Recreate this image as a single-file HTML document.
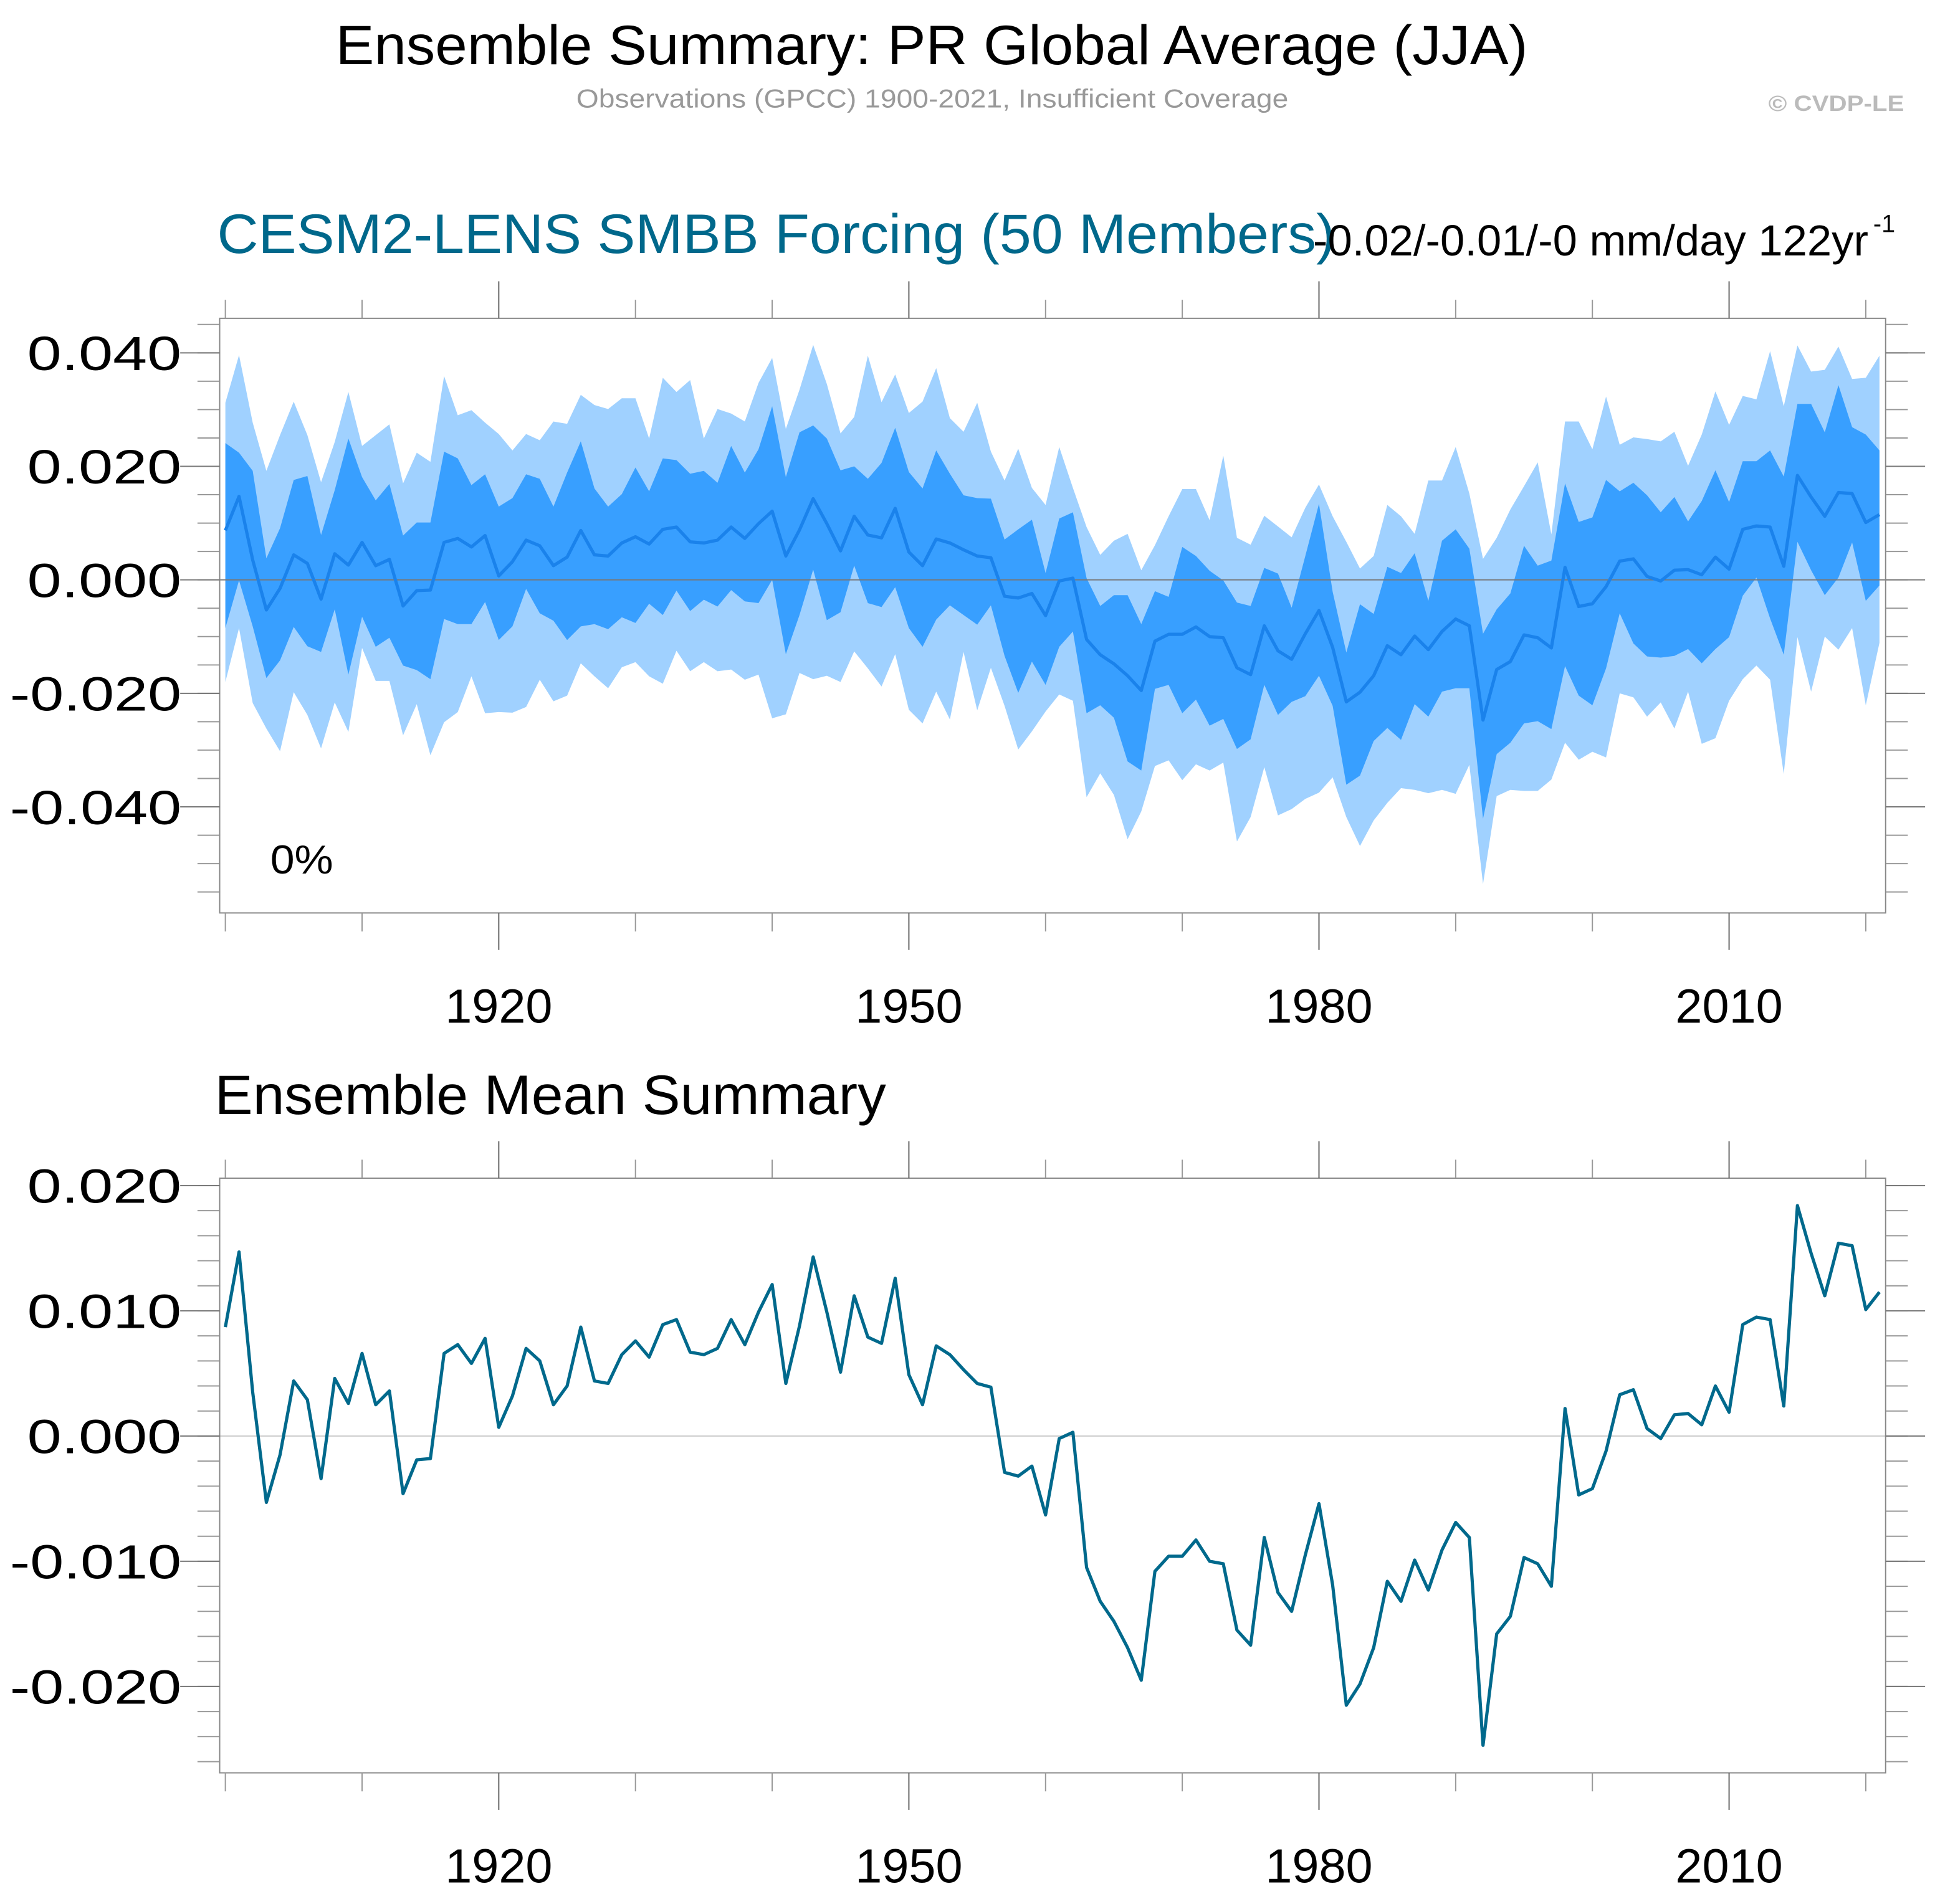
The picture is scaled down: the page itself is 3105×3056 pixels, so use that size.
<!DOCTYPE html>
<html><head><meta charset="utf-8">
<style>html,body{margin:0;padding:0;background:#fff}svg{display:block}</style>
</head><body>
<svg id="chart" xmlns="http://www.w3.org/2000/svg" width="3105" height="3056" viewBox="0 0 1568 1543.3" font-family="Liberation Sans, sans-serif">
<text x="272" y="52" font-size="45" textLength="966" lengthAdjust="spacingAndGlyphs">Ensemble Summary: PR Global Average (JJA)</text>
<text x="467" y="87" font-size="21" fill="#999" textLength="577" lengthAdjust="spacingAndGlyphs">Observations (GPCC) 1900-2021, Insufficient Coverage</text>
<text x="1433" y="90" font-size="18" font-weight="bold" fill="#bbb" textLength="110" lengthAdjust="spacingAndGlyphs">© CVDP-LE</text>
<text x="176" y="205" font-size="45" fill="#00688b" textLength="906" lengthAdjust="spacingAndGlyphs">CESM2-LENS SMBB Forcing (50 Members)</text>
<text x="1064" y="207" font-size="35" textLength="450" lengthAdjust="spacingAndGlyphs">-0.02/-0.01/-0 mm/day 122yr</text>
<text x="1518" y="188" font-size="20">-1</text>
<text x="219" y="708" font-size="33" textLength="51" lengthAdjust="spacingAndGlyphs">0%</text>
<text x="174" y="903" font-size="45" textLength="544" lengthAdjust="spacingAndGlyphs">Ensemble Mean Summary</text>
<g id="top"></g>
<g id="bottom"></g>
</svg>
<script>
const years = []; for (let y = 1900; y <= 2021; y++) years.push(y);
const ensMean = [0.0087,0.0147,0.0035,-0.0053,-0.0015,0.0044,0.0029,-0.0034,0.0046,0.0026,0.0066,0.0025,0.0036,-0.0046,-0.0019,-0.0018,0.0066,0.0073,0.0058,0.0078,0.0007,0.0032,0.0070,0.0060,0.0025,0.0040,0.0087,0.0044,0.0042,0.0065,0.0076,0.0063,0.0089,0.0093,0.0067,0.0065,0.0070,0.0093,0.0073,0.0099,0.0121,0.0042,0.0088,0.0143,0.0099,0.0051,0.0112,0.0079,0.0074,0.0126,0.0049,0.0025,0.0072,0.0065,0.0053,0.0042,0.0039,-0.0029,-0.0032,-0.0024,-0.0063,-0.0002,0.0003,-0.0105,-0.0132,-0.0148,-0.0169,-0.0195,-0.0108,-0.0096,-0.0096,-0.0083,-0.0100,-0.0102,-0.0155,-0.0167,-0.0081,-0.0125,-0.0140,-0.0095,-0.0054,-0.0119,-0.0215,-0.0198,-0.0169,-0.0116,-0.0132,-0.0099,-0.0123,-0.0091,-0.0069,-0.0081,-0.0247,-0.0158,-0.0144,-0.0097,-0.0102,-0.0120,0.0022,-0.0047,-0.0042,-0.0012,0.0033,0.0037,0.0006,-0.0002,0.0017,0.0018,0.0009,0.0040,0.0019,0.0089,0.0095,0.0093,0.0024,0.0184,0.0146,0.0112,0.0154,0.0152,0.0101,0.0115];
const outerUpper = [0.0312,0.0396,0.0277,0.0192,0.0255,0.0314,0.0255,0.0172,0.0243,0.0331,0.0236,0.0255,0.0274,0.0170,0.0224,0.0208,0.0359,0.0290,0.0299,0.0277,0.0257,0.0228,0.0257,0.0246,0.0279,0.0275,0.0326,0.0308,0.0301,0.0320,0.0320,0.0249,0.0356,0.0331,0.0352,0.0249,0.0301,0.0293,0.0279,0.0347,0.0391,
0.0266,0.0335,0.0414,0.0345,0.0258,0.0287,0.0395,0.0313,0.0362,0.0294,0.0314,0.0373,0.0285,0.0261,0.0312,0.0226,0.0175,0.0231,0.0162,0.0132,0.0234,0.0162,0.0093,0.0044,0.0069,0.0081,0.0017,0.0061,0.0112,0.0160,0.0160,0.0105,0.0219,0.0074,0.0062,0.0113,0.0094,0.0075,0.0127,0.0168,
0.0112,0.0067,0.0020,0.0042,0.0132,0.0112,0.0081,0.0175,0.0175,0.0234,0.0152,0.0037,0.0074,0.0124,0.0165,0.0207,0.0080,0.0279,0.0279,0.0230,0.0323,0.0238,0.0251,0.0248,0.0244,0.0261,0.0201,0.0256,0.0332,0.0273,0.0324,0.0318,0.0403,0.0306,0.0413,0.0367,0.0370,0.0411,0.0354,0.0356,0.0395];
const innerUpper = [0.0241,0.0224,0.0192,0.0038,0.0091,0.0176,0.0183,0.0079,0.0158,0.0249,0.0181,0.0140,0.0169,0.0078,0.0101,0.0101,0.0226,0.0214,0.0167,0.0186,0.0129,0.0144,0.0186,0.0178,0.0129,0.0189,0.0244,0.0161,0.0129,0.0151,0.0198,0.0156,0.0214,0.0211,0.0187,0.0192,0.0171,0.0236,0.0189,0.0230,0.0306,
0.0181,0.0260,0.0272,0.0249,0.0193,0.0200,0.0178,0.0206,0.0268,0.0190,0.0161,0.0228,0.0187,0.0149,0.0144,0.0143,0.0071,0.0089,0.0106,0.0012,0.0108,0.0119,0.0003,-0.0046,-0.0027,-0.0027,-0.0078,-0.0020,-0.0030,0.0058,0.0042,0.0016,-0.0001,-0.0040,-0.0046,0.0021,0.0011,-0.0049,0.0042,0.0134,
-0.0021,-0.0128,-0.0043,-0.0060,0.0023,0.0012,0.0047,-0.0037,0.0069,0.0089,0.0055,-0.0095,-0.0052,-0.0024,0.0060,0.0025,0.0034,0.0170,0.0102,0.0110,0.0176,0.0156,0.0171,0.0149,0.0119,0.0146,0.0103,0.0139,0.0193,0.0137,0.0209,0.0209,0.0228,0.0182,0.0310,0.0310,0.0260,0.0343,0.0269,0.0256,0.0228];
const innerLower = [-0.0085,-0.0001,-0.0082,-0.0173,-0.0142,-0.0083,-0.0117,-0.0127,-0.0052,-0.0167,-0.0065,-0.0118,-0.0102,-0.0151,-0.0159,-0.0175,-0.0069,-0.0078,-0.0078,-0.0039,-0.0106,-0.0082,-0.0016,-0.0059,-0.0072,-0.0106,-0.0082,-0.0078,-0.0087,-0.0066,-0.0076,-0.0042,-0.0062,-0.0019,-0.0055,-0.0035,-0.0047,-0.0018,-0.0038,-0.0041,0.0000,
-0.0131,-0.0062,0.0018,-0.0071,-0.0057,0.0025,-0.0041,-0.0048,-0.0013,-0.0085,-0.0118,-0.0070,-0.0045,-0.0062,-0.0079,-0.0045,-0.0134,-0.0199,-0.0144,-0.0185,-0.0118,-0.0091,-0.0235,-0.0221,-0.0243,-0.0320,-0.0336,-0.0192,-0.0185,-0.0235,-0.0211,-0.0257,-0.0245,-0.0298,-0.0281,-0.0185,-0.0238,-0.0215,-0.0205,-0.0169,
-0.0222,-0.0361,-0.0345,-0.0284,-0.0261,-0.0282,-0.0219,-0.0241,-0.0197,-0.0191,-0.0191,-0.0421,-0.0307,-0.0287,-0.0253,-0.0249,-0.0263,-0.0152,-0.0204,-0.0221,-0.0156,-0.0059,-0.0112,-0.0135,-0.0137,-0.0134,-0.0122,-0.0147,-0.0122,-0.0101,-0.0028,0.0004,-0.0068,-0.0132,0.0067,0.0017,-0.0027,0.0004,0.0066,-0.0037,-0.0010];
const outerLower = [-0.0180,-0.0085,-0.0217,-0.0262,-0.0302,-0.0198,-0.0238,-0.0297,-0.0216,-0.0268,-0.0120,-0.0178,-0.0178,-0.0274,-0.0219,-0.0309,-0.0251,-0.0233,-0.0170,-0.0235,-0.0233,-0.0234,-0.0224,-0.0176,-0.0214,-0.0204,-0.0147,-0.0170,-0.0191,-0.0154,-0.0145,-0.0170,-0.0183,-0.0125,-0.0161,-0.0145,-0.0161,-0.0158,-0.0176,-0.0167,-0.0244,
-0.0237,-0.0164,-0.0175,-0.0169,-0.0180,-0.0126,-0.0156,-0.0188,-0.0131,-0.0229,-0.0253,-0.0197,-0.0246,-0.0127,-0.0230,-0.0155,-0.0222,-0.0299,-0.0267,-0.0232,-0.0202,-0.0213,-0.0383,-0.0341,-0.0379,-0.0457,-0.0408,-0.0328,-0.0318,-0.0353,-0.0325,-0.0336,-0.0322,-0.0461,-0.0418,-0.0330,-0.0415,-0.0404,-0.0386,-0.0375,
-0.0348,-0.0418,-0.0469,-0.0424,-0.0393,-0.0367,-0.0370,-0.0376,-0.0370,-0.0377,-0.0326,-0.0536,-0.0381,-0.0370,-0.0372,-0.0372,-0.0352,-0.0287,-0.0317,-0.0303,-0.0313,-0.0200,-0.0207,-0.0241,-0.0216,-0.0262,-0.0197,-0.0289,-0.0279,-0.0213,-0.0175,-0.0151,-0.0176,-0.0342,-0.0101,-0.0197,-0.0100,-0.0123,-0.0085,-0.0221,-0.0111];
const topYTicks = [0.04,0.02,0.0,-0.02,-0.04];
const bottomYTicks = [0.02,0.01,0.0,-0.01,-0.02];
const xMajorTicks = [1920,1950,1980,2010];

const NS = 'http://www.w3.org/2000/svg';
function mk(parent, tag, attrs) {
  const e = document.createElementNS(NS, tag);
  for (const k in attrs) e.setAttribute(k, attrs[k]);
  parent.appendChild(e);
  return e;
}
const L = 178, R = 1528;
const xS = y => 182.6 + (y - 1900) * (1401 - 404) / 90;

function drawPanel(g, top, bot, zeroY, pxPerUnit, yTicks, minorStep, minorFrom, minorTo, fmt, isTop) {
  const yS = v => zeroY - v * pxPerUnit;
  if (isTop) {
    const outer = [];
    years.forEach((y, i) => outer.push(xS(y) + ',' + yS(outerUpper[i])));
    for (let i = years.length - 1; i >= 0; i--) outer.push(xS(years[i]) + ',' + yS(outerLower[i]));
    const po = mk(g, 'polygon', {points: outer.join(' '), fill: '#a0d1ff'});
    
    
    const inner = [];
    years.forEach((y, i) => inner.push(xS(y) + ',' + yS(innerUpper[i])));
    for (let i = years.length - 1; i >= 0; i--) inner.push(xS(years[i]) + ',' + yS(innerLower[i]));
    const pi = mk(g, 'polygon', {points: inner.join(' '), fill: '#389fff'});
    
    
  }
  const zl = mk(g, 'line', {x1: L, x2: R, y1: zeroY, y2: zeroY, stroke: isTop ? '#777' : '#ccc', 'stroke-width': 1});
  
  
  const pts = years.map((y, i) => xS(y) + ',' + yS(ensMean[i])).join(' ');
  const ln = mk(g, 'polyline', {points: pts, fill: 'none', stroke: isTop ? '#1a82eb' : '#00698c', 'stroke-width': 2.6, 'stroke-linejoin': 'round'});
  
  
  const fr = mk(g, 'rect', {x: L, y: top, width: R - L, height: bot - top, fill: 'none', stroke: '#888', 'stroke-width': 1});
  
  
  for (let v = minorFrom; v <= minorTo + 1e-9; v += minorStep) {
    const y = yS(v);
    if (y < top || y > bot) continue;
    mk(g, 'line', {x1: L - 18, x2: L, y1: y, y2: y, stroke: '#999', 'stroke-width': 1});
    mk(g, 'line', {x1: R, x2: R + 18, y1: y, y2: y, stroke: '#999', 'stroke-width': 1});
  }
  yTicks.forEach(v => {
    const y = yS(v);
    mk(g, 'line', {x1: L - 32, x2: L, y1: y, y2: y, stroke: '#777', 'stroke-width': 1});
    mk(g, 'line', {x1: R, x2: R + 32, y1: y, y2: y, stroke: '#777', 'stroke-width': 1});
    const s = fmt(v);
    const w = s.startsWith('-') ? 139 : 125;
    const t = mk(g, 'text', {x: 147 - w, y: y + 14, 'font-size': 39, textLength: w, lengthAdjust: 'spacingAndGlyphs'});
    
    
    t.textContent = s;
  });
  for (let yr = 1900; yr <= 2020; yr += 10) {
    const x = xS(yr);
    const major = xMajorTicks.includes(yr);
    const len = major ? 30 : 15;
    mk(g, 'line', {x1: x, x2: x, y1: top - len, y2: top, stroke: major ? '#666' : '#999', 'stroke-width': 1});
    mk(g, 'line', {x1: x, x2: x, y1: bot, y2: bot + len, stroke: major ? '#666' : '#999', 'stroke-width': 1});
  }
  xMajorTicks.forEach(yr => {
    const t = mk(g, 'text', {x: xS(yr) - 43.5, y: bot + 89, 'font-size': 39, textLength: 87, lengthAdjust: 'spacingAndGlyphs'});
    
    
    t.textContent = String(yr);
  });
}
const fmt3 = v => (v < 0 ? '-' : '') + Math.abs(v).toFixed(3);
const gt = document.getElementById('top');


drawPanel(gt, 258, 740, 470, 4600, topYTicks, 0.005, -0.055, 0.045, fmt3, true);
const gb = document.getElementById('bottom');


drawPanel(gb, 955, 1437, 1164, 10150, bottomYTicks, 0.002, -0.026, 0.020, fmt3, false);
</script>
</body></html>
